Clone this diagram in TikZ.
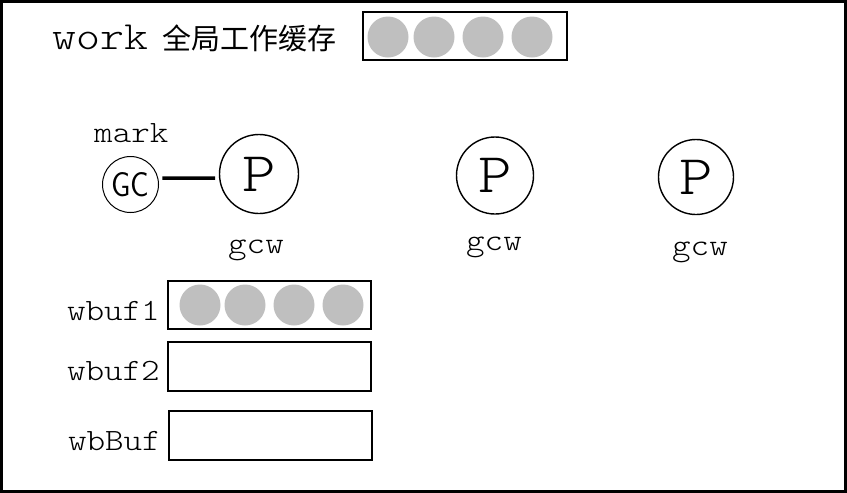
\documentclass[tikz,border=0pt]{standalone}
\usepackage{fontspec}
\usepackage{tikz}
\newfontfamily\courfont{lmmonolt10-regular.otf}[FakeStretch=1.14]
\newfontfamily\cjkfont{Noto Sans CJK SC}
\newfontfamily\gcfont{lmsans10-regular.otf}[FakeStretch=0.85]
\definecolor{bufgray}{HTML}{BFBFBF}
\tikzset{
    lbl/.style={inner sep=0pt, font=\courfont\fontsize{31}{36}\selectfont}
}
\tikzset{
    proc/.style={circle, draw, line width=1.4pt, minimum size=77pt, inner sep=0pt,
    	font=\courfont\fontsize{56}{60}\selectfont}
}
\tikzset{
    bufbox/.style={rectangle, draw, line width=1.4pt, minimum width=203pt,
    	minimum height=48pt, inner sep=0pt},
    obj/.style={circle, fill=bufgray, minimum size=41pt, inner sep=0pt}
}

\begin{document}
\begin{tikzpicture}[x=1pt, y=-1pt]
	\useasboundingbox (0,0) rectangle (847,493);
	\draw [line width=3pt] (1.5,1.5) rectangle (845.5,491.5);
	% global work buffer
	\node [lbl, anchor=base west, font=\courfont\fontsize{40}{46}\selectfont] (work) at (52,49) {work};
	\node [inner sep=0pt, anchor=west, font=\cjkfont\fontsize{29}{32}\selectfont] (workdesc) at (162,38) {全局工作缓存};
	\node [bufbox, minimum width=204pt] (workbuf) at (465,36) {};
	\node [obj] (w1) at (388,37) {};
	\node [obj] (w2) at (434,37) {};
	\node [obj] (w3) at (483,37) {};
	\node [obj] (w4) at (532,37) {};
	% processors
	\node [circle, draw, line width=1pt, minimum size=56pt, inner sep=0pt,
		font=\gcfont\fontsize{34}{38}\selectfont] (gc) at (130.5,184.5) {GC};
	\node [lbl, anchor=base west] (mark) at (94,142) {mark};
	\node [proc, minimum size=79pt] (p1) at (259,174) {P};
	\node [proc] (p2) at (495,175.5) {P};
	\node [proc, minimum size=75pt] (p3) at (696,177) {P};
	\node [lbl, anchor=base] (gcw1) at (256,253) {gcw};
	\node [lbl, anchor=base] (gcw2) at (494,250) {gcw};
	\node [lbl, anchor=base] (gcw3) at (700,255) {gcw};
	\draw [line width=3.5pt, shorten <=4pt, shorten >=4pt] (gc.13) -- (p1.186);
	% gcw buffers
	\node [lbl, anchor=base east] (wbuf1) at (160,320) {wbuf1};
	\node [lbl, anchor=base east] (wbuf2) at (160,380) {wbuf2};
	\node [lbl, anchor=base east] (wbbuf) at (161,450) {wbBuf};
	\node [bufbox] (buf1) at (269.5,305) {};
	\node [bufbox, minimum height=49pt] (buf2) at (269.5,366.5) {};
	\node [bufbox, minimum height=49pt] (buf3) at (270.5,435.5) {};
	\node [obj] (b1) at (200,305) {};
	\node [obj] (b2) at (245,305) {};
	\node [obj] (b3) at (294,305) {};
	\node [obj] (b4) at (343,305) {};
\end{tikzpicture}
\end{document}
